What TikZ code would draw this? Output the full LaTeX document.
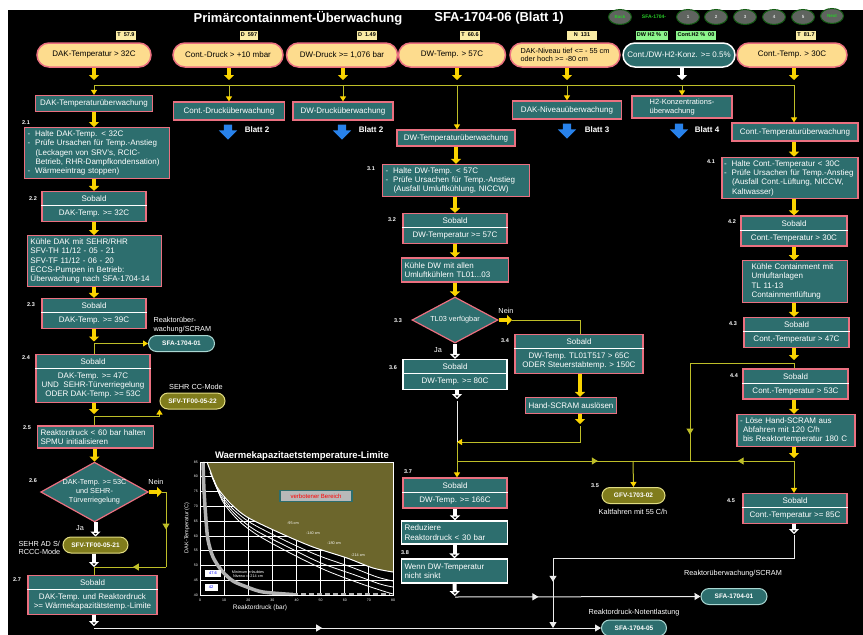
\documentclass[tikz,border=0pt]{standalone}
\usepackage{fontspec}
\setmainfont{Liberation Sans}
\usetikzlibrary{arrows.meta,shapes.geometric,shapes.multipart,shapes.arrows,decorations.markings}
\definecolor{panelteal}{RGB}{45,110,110}
\definecolor{framepink}{RGB}{235,112,128}
\definecolor{alarmcream}{RGB}{253,220,142}
\definecolor{flowyellow}{RGB}{250,212,0}
\definecolor{wireyellow}{RGB}{190,190,40}
\definecolor{ovalolive}{RGB}{128,124,28}
\definecolor{ovalrim}{RGB}{225,220,130}
\definecolor{ovalcyan}{RGB}{170,215,210}
\definecolor{chartolive}{RGB}{108,102,44}
\definecolor{readoutcream}{RGB}{250,236,165}
\definecolor{readoutgreen}{RGB}{140,245,140}
\definecolor{sheetblue}{RGB}{40,130,235}
\definecolor{navgray}{RGB}{95,100,95}
\definecolor{navgreen}{RGB}{40,205,40}

\tikzset{
  boxfont/.style={font=\fontsize{8}{9.3}\selectfont},
  headline/.style={text=white, font=\bfseries\fontsize{13}{15}\selectfont},
  navbutton/.style={ellipse, minimum width=23pt, minimum height=15pt, inner sep=0pt, fill=navgray, draw=navgreen!45!black, line width=1pt, text=navgreen, font=\bfseries\fontsize{4.5}{5}\selectfont},
  readout/.style={rectangle, fill=readoutcream, text=black, inner sep=1.2pt, minimum height=9pt, font=\bfseries\fontsize{5.5}{6}\selectfont},
  trigger/.style={rectangle, rounded corners=12pt, minimum height=24pt, fill=alarmcream, draw=framepink, line width=1.5pt, text=black, align=center, boxfont},
  taskbox/.style={rectangle, minimum height=16pt, fill=panelteal, draw=framepink, line width=1.2pt, text=white, align=left, inner xsep=3pt, inner ysep=3pt, boxfont},
  sobaldbox/.style={rectangle split, rectangle split parts=2, fill=panelteal, draw=framepink, line width=1.2pt, text=white, align=center, inner xsep=2pt, inner ysep=3.6pt, boxfont},
  decision/.style={diamond, aspect=1.8, inner sep=0pt, fill=panelteal, draw=framepink, line width=1.2pt, text=white, align=center, font=\fontsize{7.3}{8.8}\selectfont},
  linkoval/.style={rectangle, rounded corners=8pt, minimum height=16pt, inner sep=1pt, fill=panelteal, draw=ovalcyan, line width=1pt, text=white, font=\bfseries\fontsize{6.5}{7}\selectfont},
  modeoval/.style={linkoval, fill=ovalolive, draw=ovalrim},
  sheetarrow/.style={single arrow, shape border rotate=270, fill=sheetblue, inner sep=4pt, single arrow head extend=5pt, minimum height=15pt},
  sheetnote/.style={text=white, font=\bfseries\fontsize{8}{9}\selectfont},
  steplabel/.style={text=white, font=\bfseries\fontsize{5.5}{6}\selectfont},
  note/.style={text=white, align=left, font=\fontsize{7.3}{8.5}\selectfont},
  divider/.style={draw=white, line width=1.2pt},
  fatarrow/.style={draw=flowyellow, line width=4pt, -{Triangle[width=10pt,length=5pt]}},
  whitefat/.style={draw=white, line width=4pt, -{Triangle[width=10pt,length=5pt]}},
  wire/.style={draw=wireyellow, line width=1pt},
  wirearrow/.style={wire, -{Triangle[width=6pt,length=5pt,color=flowyellow]}},
  whitewire/.style={draw=white!85!gray, line width=1pt},
  tipend/.style={-{Triangle[width=7pt,length=6pt]}},
  midarrow/.style={postaction={decorate}, decoration={markings, mark=at position #1 with {\arrow{Triangle[width=7pt,length=6pt]}}}},
  midarrow/.default=0.5,
  chartnote/.style={text=white, font=\fontsize{3.8}{4.3}\selectfont, align=center},
  ticklabel/.style={text=white, font=\fontsize{3.5}{4}\selectfont, inner sep=1pt},
}

\begin{document}
\begin{tikzpicture}[x=1pt,y=-1pt]
\useasboundingbox (0,0) rectangle (863,635);
\fill[white] (0,0) rectangle (863,635);
\fill[black] (8,10) rectangle (863,635);

% header
\node[headline] (title) at (298,18) {Primärcontainment-Überwachung};
\node[headline] (sheet) at (499,18) {SFA-1704-06 (Blatt 1)};
\node[navbutton] (back) at (620,17) {Back};
\node[text=navgreen, font=\bfseries\fontsize{5}{6}\selectfont] (navtag) at (654,17) {SFA-1704-};
\foreach \k/\x in {1/688,2/716,3/745,4/774,5/803}
  \node[navbutton, text=white!75!gray] (nav\k) at (\x,17) {\k};
\node[navbutton] (next) at (832,16) {Next};

% readouts
\node[readout] (rDAK) at (126,35) {T\ \ 57.9};
\node[readout] (rCD) at (249,35) {D\ \ 597};
\node[readout] (rDWD) at (367,35) {D\ \ 1.49};
\node[readout] (rDWT) at (470,35) {T\ \ 60.6};
\node[readout, minimum width=30pt] (rNiv) at (582,35) {N\ \ 131};
\node[readout, fill=readoutgreen] (rH2a) at (652,35) {DW H2 \%\ \ 0};
\node[readout, fill=readoutgreen] (rH2b) at (696,35) {Cont.H2 \%\ \ 00};
\node[readout] (rCT) at (806,35) {T\ \ 81.7};

% triggers
\node[trigger, minimum width=114pt] (tDAK) at (94,55) {DAK-Temperatur > 32C};
\node[trigger, minimum width=110pt] (tCD) at (228,55) {Cont.-Druck > +10 mbar};
\node[trigger, minimum width=111pt] (tDWD) at (342,55) {DW-Druck >= 1,076 bar};
\node[trigger, minimum width=107pt] (tDWT) at (452,55) {DW-Temp. > 57C};
\node[trigger, minimum width=110pt, align=left, font=\fontsize{7.3}{8.5}\selectfont] (tNiv) at (565,55) {DAK-Niveau tief <= - 55 cm\\oder hoch >= -80 cm};
\node[trigger, minimum width=112pt, fill=panelteal, draw=white, text=white] (tH2) at (679,55) {Cont./DW-H2-Konz. >= 0.5\%};
\node[trigger, minimum width=110pt] (tCT) at (792,55) {Cont.-Temp. > 30C};

\foreach \n/\x in {1/94,2/229,3/343,4/457,5/567,6/682,7/794}
  \coordinate (bus\n) at (\x,85);

% monitoring row
\node[taskbox, minimum width=117pt] (wDAK) at (94,103.5) {DAK-Temperaturüberwachung};
\node[taskbox, minimum width=111pt, minimum height=18pt] (wCD) at (229,111) {Cont.-Drucküberwachung};
\node[taskbox, minimum width=100pt, minimum height=18pt] (wDWD) at (343,111) {DW-Drucküberwachung};
\node[taskbox, minimum width=109pt, minimum height=18pt] (wNiv) at (567,110) {DAK-Niveauüberwachung};
\node[taskbox, minimum width=100pt, minimum height=22pt, font=\fontsize{7.5}{8.5}\selectfont] (wH2) at (682,107) {H2-Konzentrations-\\überwachung};
\node[taskbox, minimum width=118pt] (wDWT) at (456,138) {DW-Temperaturüberwachung};
\node[taskbox, minimum width=126pt, minimum height=18pt] (wCT) at (795,132) {Cont.-Temperaturüberwachung};

\draw[fatarrow, shorten >=5pt] (tDAK.south -| bus1) -- (bus1);
\draw[fatarrow, shorten >=5pt] (tCD.south -| bus2) -- (bus2);
\draw[fatarrow, shorten >=5pt] (tDWD.south -| bus3) -- (bus3);
\draw[fatarrow, shorten >=5pt] (tDWT.south -| bus4) -- (bus4);
\draw[fatarrow, shorten >=5pt] (tNiv.south -| bus5) -- (bus5);
\draw[whitefat, shorten >=5pt] (tH2.south -| bus6) -- (bus6);
\draw[fatarrow, shorten >=5pt] (tCT.south -| bus7) -- (bus7);
\draw[wire] (bus1) -- (bus7);
\draw[wirearrow] (bus1) -- (bus1 |- wDAK.north);
\draw[wirearrow] (bus2) -- (bus2 |- wCD.north);
\draw[wirearrow] (bus3) -- (bus3 |- wDWD.north);
\draw[wirearrow] (bus4) -- (bus4 |- wDWT.north);
\draw[wirearrow] (bus5) -- (bus5 |- wNiv.north);
\draw[wirearrow] (bus6) -- (bus6 |- wH2.north);
\draw[wirearrow] (bus7) -- (bus7 |- wCT.north);

% other sheets
\node[sheetarrow] (toCD) at (228,130) {};
\node[sheetnote] (lblCD) at (257,130) {Blatt 2};
\node[sheetarrow] (toDWD) at (342,130) {};
\node[sheetnote] (lblDWD) at (371,130) {Blatt 2};
\node[sheetarrow] (toNiv) at (567,129) {};
\node[sheetnote] (lblNiv) at (597,130) {Blatt 3};
\node[sheetarrow] (toH2) at (679,129) {};
\node[sheetnote] (lblH2) at (707,130) {Blatt 4};

% DAK temperature chain
\node[steplabel] (l21) at (26,123) {2.1};
\node[taskbox, text width=139pt] (n21) at (97,153) {-\hspace{5pt}Halte DAK-Temp. < 32C\\-\hspace{5pt}Prüfe Ursachen für Temp.-Anstieg\\\hspace*{8pt}(Leckagen von SRV's, RCIC-\\\hspace*{8pt}Betrieb, RHR-Dampfkondensation)\\-\hspace{5pt}Wärmeeintrag stoppen)};
\node[steplabel] (l22) at (33,199) {2.2};
\node[sobaldbox, minimum width=104pt] (n22) at (94,206.5) {Sobald\nodepart{two}DAK-Temp. >= 32C};
\node[taskbox, text width=128pt] (n22b) at (94.5,261) {Kühle DAK mit SEHR/RHR\\SFV-TH 11/12 - 05 - 21\\SFV-TF 11/12 - 06 - 20\\ECCS-Pumpen in Betrieb:\\Überwachung nach SFA-1704-14};
\node[steplabel] (l23) at (31,305) {2.3};
\node[sobaldbox, minimum width=104pt] (n23) at (94,313.5) {Sobald\nodepart{two}DAK-Temp. >= 39C};
\node[linkoval, minimum width=66pt] (e1) at (181.5,343.5) {SFA-1704-01};
\node[note, anchor=west] (m1) at (150,325) {Reaktorüber-\\wachung/SCRAM};
\node[steplabel] (l24) at (26,358) {2.4};
\node[sobaldbox, minimum width=114pt] (n24) at (93,378.5) {Sobald\nodepart{two}DAK-Temp. >= 47C\\UND\ \ SEHR-Türverriegelung\\ODER DAK-Temp. >= 53C};
\node[modeoval, minimum width=65pt] (e2) at (192.5,401) {SFV-TF00-05-22};
\node[note] (m2) at (196,387) {SEHR CC-Mode};
\node[steplabel] (l25) at (27,428) {2.5};
\node[taskbox, text width=110pt, minimum height=22pt] (n25) at (95.5,437) {Reaktordruck < 60 bar halten\\SPMU initialisieren};
\node[steplabel] (l26) at (33,481) {2.6};
\node[decision, minimum width=105pt, minimum height=58pt] (d26) at (94.5,492) {DAK-Temp. >= 53C\\und SEHR-\\Türverriegelung};
\node[note] (no26) at (156,482) {Nein};
\node[note] (yes26) at (80,528) {Ja};
\node[modeoval, minimum width=65pt] (e3) at (95.5,545) {SFV-TF00-05-21};
\node[note, anchor=west] (m3) at (15,548) {SEHR AD S/\\RCCC-Mode};
\node[steplabel] (l27) at (17,580) {2.7};
\node[sobaldbox, minimum width=129pt] (n27) at (92.5,595) {Sobald\nodepart{two}DAK-Temp. und Reaktordruck\\>= Wärmekapazitätstemp.-Limite};

\coordinate (j23) at (94,343.5);
\coordinate (j24) at (94,416);
\coordinate (j26a) at (162,492);
\coordinate (c26a) at (166,492);
\coordinate (c26b) at (166,567);
\coordinate (j26) at (94,567);
\coordinate (c27) at (94,628);

\draw[fatarrow] (wDAK.south) -- (wDAK.south |- n21.north);
\draw[fatarrow] (n21.south -| n22.north) -- (n22.north);
\draw[fatarrow] (n22.south) -- (n22.south |- n22b.north);
\draw[fatarrow] (n22b.south -| n23.north) -- (n23.north);
\draw[fatarrow, shorten >=2pt] (n23.south) -- (j23);
\draw[wire] (j23) -- (j23 |- n24.north);
\draw[wirearrow] (j23) -- (e1.west);
\draw[fatarrow, shorten >=2pt] (n24.south -| j24) -- (j24);
\draw[wire] (j24) -- (j24 |- n25.north);
\draw[wirearrow] (j24) -| (e2.south west);
\draw[fatarrow] (n25.south -| d26.north) -- (d26.north);
\draw[fatarrow] (d26.east) -- (j26a);
\draw[wire] (j26a) -- (c26a);
\draw[wire, midarrow] (c26a) -- (c26b);
\draw[wire, midarrow=0.46] (c26b) -- (j26);
\draw[whitefat] (d26.south -| e3.north) -- (e3.north);
\draw[whitefat] (e3.south -| j26) -- (j26);
\draw[wire] (j26) -- (j26 |- n27.north);

% heat capacity temperature limit chart
\node[text=white, font=\bfseries\fontsize{9.5}{11}\selectfont] (charttitle) at (302,456) {Waermekapazitaetstemperature-Limite};
\fill[chartolive] plot[smooth] coordinates {(207,462) (210,470) (217,487) (230,503) (247,517) (280,533) (313,547) (347,558) (373,568) (393,572)} -- (393,462) -- cycle;
\begin{scope}
  \clip plot[smooth] coordinates {(207,462) (210,470) (217,487) (230,503) (247,517) (280,533) (313,547) (347,558) (373,568) (393,572)} -- (393,595) -- (200,595) -- (200,462) -- cycle;
  \foreach \k in {1,...,7}
    \draw[white, line width=0.8pt] (200+24.125*\k,462) -- (200+24.125*\k,595);
  \foreach \j in {1,...,8}
    \draw[white, line width=0.8pt] (200,462+14.78*\j) -- (393,462+14.78*\j);
\end{scope}
\draw[white, line width=1pt] plot[smooth] coordinates {(207,462) (210,470) (217,487) (230,503) (247,517) (280,533) (313,547) (347,558) (373,568) (393,572)};
\draw[white, line width=0.8pt] plot[smooth] coordinates {(210,472) (219,492) (233,509) (251,523) (284,540) (317,555) (351,567) (377,577) (393,581)};
\draw[white, line width=0.8pt] plot[smooth] coordinates {(212,476) (221,497) (236,515) (255,530) (288,547) (321,563) (355,575) (380,584) (393,587)};
\draw[white, line width=0.8pt] plot[smooth] coordinates {(214,480) (223,502) (239,521) (259,536) (292,554) (325,570) (359,583) (383,591) (393,594)};
\draw[gray!60, line width=3.5pt] plot[smooth] coordinates {(203,462) (204,490) (206,520) (208,540) (213,557) (222,571) (233,581) (247,587) (263,592) (293,594.5)};
\draw[gray!60, line width=3.5pt, dash pattern=on 5pt off 3pt] (293,594.5) -- (390,594.5);
\draw[white, line width=0.6pt] (200,462) rectangle (393,595);
\foreach \v [count=\i from 0] in {0,10,...,80}
  \node[ticklabel] (xt\i) at (200+24.125*\i,600) {\v};
\foreach \v [count=\j from 0] in {85,80,...,40}
  \node[ticklabel, anchor=east] (yt\j) at (199,462+14.78*\j) {\v};
\node[text=white, rotate=90, font=\fontsize{5.5}{6}\selectfont] (yaxis) at (187,528) {DAK-Temperatur (C)};
\node[text=white, font=\fontsize{6.5}{7}\selectfont] (xaxis) at (260,608) {Reaktordruck (bar)};
\node[fill=gray!55, draw=panelteal, line width=1.5pt, text=red, minimum width=72pt, minimum height=11pt, inner sep=1pt, font=\fontsize{6}{7}\selectfont] (forbidden) at (316,496) {verbotener Bereich};
\node[chartnote] (lv95) at (293,523) {-95 cm};
\node[chartnote] (lv140) at (313,533) {-140 cm};
\node[chartnote] (lv180) at (334,543) {-180 cm};
\node[chartnote] (lv214) at (358,555) {-214 cm};
\node[chartnote] (minlevel) at (248,574) {Minimum erlaubtes\\Niveau = -214 cm};
\node[fill=white, text=blue, font=\fontsize{4}{4.5}\selectfont, minimum width=16pt, minimum height=7pt, inner sep=0.5pt] (v476) at (213,573) {47.6};
\node[fill=white, text=blue, font=\fontsize{4}{4.5}\selectfont, minimum width=13pt, minimum height=7pt, inner sep=0.5pt] (v42) at (211,587) {42};

% DW temperature chain
\node[steplabel] (l31) at (371,169) {3.1};
\node[taskbox, text width=141pt] (n31) at (456,180.5) {-\hspace{5pt}Halte DW-Temp. < 57C\\-\hspace{5pt}Prüfe Ursachen für Temp.-Anstieg\\\hspace*{8pt}(Ausfall Umluftkühlung, NICCW)};
\node[steplabel] (l32) at (392,220) {3.2};
\node[sobaldbox, minimum width=104pt] (n32) at (455,228.5) {Sobald\nodepart{two}DW-Temperatur >= 57C};
\node[taskbox, text width=101pt, minimum height=24pt] (n32b) at (455,270) {Kühle DW mit allen\\Umluftkühlern TL01...03};
\node[steplabel] (l33) at (398,321) {3.3};
\node[decision, minimum width=86pt, minimum height=46pt] (d33) at (455,320) {TL03 verfügbar};
\node[note] (no33) at (506,311) {Nein};
\node[note] (yes33) at (438,350) {Ja};
\node[steplabel] (l34) at (505,341) {3.4};
\node[sobaldbox, minimum width=128pt] (n34) at (579,354) {Sobald\nodepart{two}DW-Temp. TL01T517 > 65C\\ODER Steuerstabtemp. > 150C};
\node[taskbox, minimum width=90pt] (n34b) at (571,405.5) {Hand-SCRAM auslösen};
\node[steplabel] (l36) at (393,368) {3.6};
\node[sobaldbox, minimum width=104pt, draw=white] (n36) at (455,374.5) {Sobald\nodepart{two}DW-Temp. >= 80C};
\node[steplabel] (l37) at (408,472) {3.7};
\node[sobaldbox, minimum width=104pt] (n37) at (455,493) {Sobald\nodepart{two}DW-Temp. >= 166C};
\node[taskbox, draw=white, text width=100pt, minimum height=23pt] (n37b) at (454.5,532.5) {Reduziere\\Reaktordruck < 30 bar};
\node[steplabel] (l38) at (405,553) {3.8};
\node[taskbox, draw=white, text width=100pt, minimum height=24pt] (n38) at (454.5,571) {Wenn DW-Temperatur\\nicht sinkt};
\node[steplabel] (l35) at (595,486) {3.5};
\node[modeoval, minimum width=63pt] (e6) at (633.5,495.5) {GFV-1703-02};
\node[note] (m6) at (633,512) {Kaltfahren mit 55 C/h};
\node[linkoval, minimum width=66pt] (e4) at (734,596.5) {SFA-1704-01};
\node[note] (m4) at (733,574) {Reaktorüberwachung/SCRAM};
\node[note] (m5) at (634,613) {Reaktordruck-Notentlastung};
\node[linkoval, minimum width=65pt] (e5) at (634,628) {SFA-1704-05};

\coordinate (j33) at (512,320);
\coordinate (j34) at (580,426);
\coordinate (j36) at (457,401);
\coordinate (j36b) at (457,442);
\coordinate (j36c) at (457,461);
\coordinate (j46) at (633,461);
\coordinate (j38) at (455,597);

\draw[fatarrow] (wDWT.south -| n31.north) -- (n31.north);
\draw[fatarrow] (n31.south -| n32.north) -- (n32.north);
\draw[fatarrow] (n32.south) -- (n32.south |- n32b.north);
\draw[fatarrow] (n32b.south -| d33.north) -- (d33.north);
\draw[fatarrow] (d33.east) -- (j33);
\draw[wire] (j33) -| (j34 |- n34.north);
\draw[fatarrow] (j34 |- n34.south) -- (j34 |- n34b.north);
\draw[fatarrow, shorten >=2pt] (j34 |- n34b.south) -- (j34);
\draw[wirearrow] (j34) |- (j36b);
\draw[whitefat] (d33.south) -- (d33.south |- n36.north);
\draw[whitefat, shorten >=2pt] (n36.south -| j36) -- (j36);
\draw[whitewire] (j36) -- (j36b);
\draw[wirearrow] (j36b) -- (j36b |- n37.north);
\draw[wire, midarrow=0.8] (j36c) -- (j46);
\draw[wirearrow] (j46) -- (e6.north);
\draw[whitefat] (n37.south) -- (n37.south |- n37b.north);
\draw[whitefat] (n37b.south) -- (n37b.south |- n38.north);
\draw[whitefat, shorten >=1pt] (n38.south) -- (j38);
\draw[whitewire, midarrow=0.34, tipend] (j38) -- (e4.west);
\draw[whitefat, shorten >=2pt] (n27.south -| c27) -- (c27);
\draw[whitewire, midarrow=0.45, tipend] (c27) -- (e5.west);

% containment temperature chain
\node[steplabel] (l41) at (711,162) {4.1};
\node[taskbox, inner xsep=2pt, text width=132pt] (n41) at (790,178) {-\hspace{5pt}Halte Cont.-Temperatur < 30C\\-\hspace{5pt}Prüfe Ursachen für Temp.-Anstieg\\\hspace*{8pt}(Ausfall Cont.-Lüftung, NICCW,\\\hspace*{8pt}Kaltwasser)};
\node[steplabel] (l42) at (732,222) {4.2};
\node[sobaldbox, minimum width=106pt] (n42) at (794,231) {Sobald\nodepart{two}Cont.-Temperatur > 30C};
\node[taskbox, text width=99pt] (n42b) at (795,281.5) {\hspace*{6pt}Kühle Containment mit\\\hspace*{6pt}Umluftanlagen\\\hspace*{6pt}TL 11-13\\\hspace*{6pt}Containmentlüftung};
\node[steplabel] (l43) at (733,324) {4.3};
\node[sobaldbox, minimum width=105pt] (n43) at (796.5,332.5) {Sobald\nodepart{two}Cont.-Temperatur > 47C};
\node[steplabel] (l44) at (734,376) {4.4};
\node[sobaldbox, minimum width=105pt] (n44) at (795.5,384) {Sobald\nodepart{two}Cont.-Temperatur > 53C};
\node[taskbox, text width=112pt] (n44b) at (796,430.5) {- Löse Hand-SCRAM aus\\\hspace*{3pt}Abfahren mit 120 C/h\\\hspace*{3pt}bis Reaktortemperatur 180 C};
\node[steplabel] (l45) at (731,501) {4.5};
\node[sobaldbox, minimum width=104pt] (n45) at (795,508.5) {Sobald\nodepart{two}Cont.-Temperatur >= 85C};

\coordinate (j43) at (794,363);
\coordinate (c43) at (690,363);
\coordinate (c43b) at (690,461);
\coordinate (j44) at (794,461);
\coordinate (j45) at (794,535);
\coordinate (c45) at (553,558);
\coordinate (c45b) at (553,628);

\draw[fatarrow] (wCT.south -| j43) -- (j43 |- n41.north);
\draw[fatarrow] (j43 |- n41.south) -- (j43 |- n42.north);
\draw[fatarrow] (j43 |- n42.south) -- (j43 |- n42b.north);
\draw[fatarrow] (j43 |- n42b.south) -- (j43 |- n43.north);
\draw[fatarrow, shorten >=3pt] (j43 |- n43.south) -- (j43);
\draw[wire] (j43) -- (j43 |- n44.north);
\draw[wire] (j43) -- (c43);
\draw[wire, midarrow=0.73] (c43) -- (c43b);
\draw[fatarrow] (j43 |- n44.south) -- (j43 |- n44b.north);
\draw[fatarrow, shorten >=3pt] (j44 |- n44b.south) -- (j44);
\draw[wire, midarrow=0.35] (j44) -- (j46);
\draw[wirearrow] (j44) -- (j44 |- n45.north);
\draw[whitefat, shorten >=1pt] (j45 |- n45.south) -- (j45);
\draw[whitewire] (j45) |- (c45);
\draw[whitewire, midarrow=0.34, tipend] (c45) -- (c45b);

% Sobald dividers
\foreach \s in {n22,n23,n24,n27,n32,n34,n36,n37,n42,n43,n44,n45}
  \draw[divider] (\s.text split west) -- (\s.text split east);
\end{tikzpicture}
\end{document}
